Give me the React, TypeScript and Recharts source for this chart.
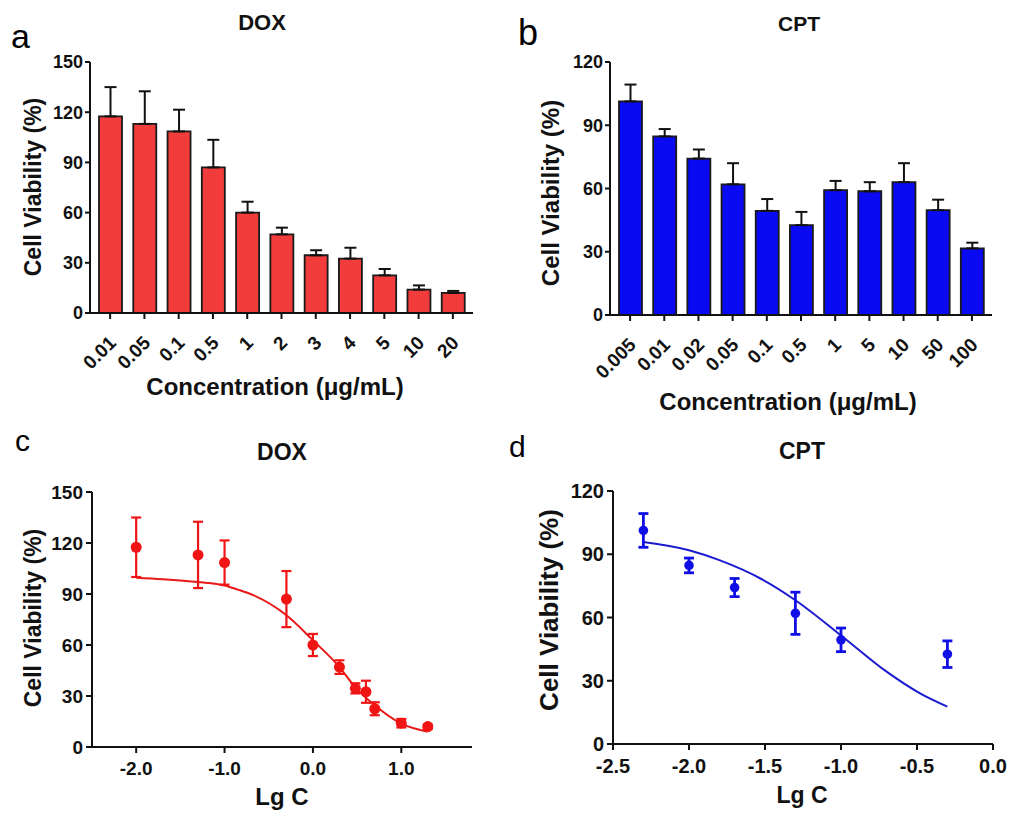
import React from "react";
import {
  Bar,
  ComposedChart,
  ErrorBar,
  Line,
  Scatter,
  XAxis,
  YAxis,
} from "recharts";

// panel a / c : DOX
const doxConc = ["0.01", "0.05", "0.1", "0.5", "1", "2", "3", "4", "5", "10", "20"];
const doxLgC = [-2, -1.3, -1, -0.3, 0, 0.3, 0.48, 0.6, 0.7, 1, 1.3];
const doxMean = [117.5, 113, 108.5, 87, 60, 47, 34.5, 32.5, 22.5, 14, 12];
const doxErr = [17.5, 19.5, 13, 16.5, 6.5, 4, 3, 6.5, 3.8, 2.5, 1.2];
const doxFitX = [-2, -1.7, -1.3, -1, -0.85, -0.67, -0.3, 0, 0.3, 0.46, 0.7, 1, 1.3];
const doxFitY = [99.6, 98.7, 97, 95, 92.6, 89.2, 77.5, 62.8, 47, 36.3, 24.5, 13.7, 9];

// panel b / d : CPT
const cptConc = ["0.005", "0.01", "0.02", "0.05", "0.1", "0.5", "1", "5", "10", "50", "100"];
const cptMean = [101.3, 84.7, 74.2, 62, 49.4, 42.6, 59.2, 58.7, 63, 49.7, 31.6];
const cptErr = [8, 3.5, 4.3, 10, 5.6, 6.3, 4.4, 4.3, 9, 5, 2.7];
const cptLgC = [-2.3, -2, -1.7, -1.3, -1, -0.3];
const cptFitX = [-2.3, -2, -1.8, -1.53, -1.3, -1, -0.7, -0.48, -0.3];
const cptFitY = [95.8, 91.9, 87.2, 78.5, 68.2, 51.5, 34.3, 24, 17.7];

const doxTicksY = [0, 30, 60, 90, 120, 150];
const cptTicksY = [0, 30, 60, 90, 120];
const doxTicksX = [-2, -1, 0, 1];
const cptTicksX = [-2.5, -2, -1.5, -1, -0.5, 0];

const FONT = "'Liberation Sans', Arial, sans-serif";
const INK = "#111";

const barRows = (conc: string[], mean: number[], err: number[]) =>
  conc.map((c, i) => ({ conc: c, mean: mean[i], err: [0, err[i]] }));
const ptRows = (xs: number[], mean: number[], err: number[]) =>
  xs.map((x, i) => ({ x, y: mean[i], err: err[i] }));
const fitRows = (xs: number[], ys: number[]) => xs.map((x, i) => ({ x, y: ys[i] }));

function RotTick(props: any) {
  const { x, y, payload, fontSize } = props;
  const ax = x + 7;
  const ay = y + 23;
  return (
    <text
      x={ax}
      y={ay}
      transform={`rotate(-45, ${ax}, ${ay})`}
      textAnchor="end"
      fontSize={fontSize}
      fontWeight="bold"
      fontFamily={FONT}
      fill={INK}
    >
      {payload.value}
    </text>
  );
}

function Label(p: {
  x: number;
  y: number;
  size: number;
  text: string;
  rotate?: boolean;
}) {
  return (
    <div
      style={{
        position: "absolute",
        left: p.x,
        top: p.y,
        transform: `translate(-50%, -50%)${p.rotate ? " rotate(-90deg)" : ""}`,
        fontSize: p.size,
        fontWeight: "bold",
        lineHeight: 1,
        whiteSpace: "nowrap",
        color: INK,
      }}
    >
      {p.text}
    </div>
  );
}

function Letter(p: { x: number; y: number; size: number; text: string }) {
  return (
    <div
      style={{
        position: "absolute",
        left: p.x,
        top: p.y,
        fontSize: p.size,
        lineHeight: 1,
        color: "#000",
      }}
    >
      {p.text}
    </div>
  );
}

interface BarProps {
  left: number;
  top: number;
  width: number;
  height: number;
  yWidth: number;
  xHeight: number;
  marginTop: number;
  marginRight: number;
  rows: any[];
  yMax: number;
  yTicks: number[];
  fill: string;
  tickFont: number;
  catFont: number;
}

function BarPanel(p: BarProps) {
  const axis = { stroke: INK, strokeWidth: 2 };
  const frame = { stroke: INK, strokeWidth: 1.4 };
  return (
    <div style={{ position: "absolute", left: p.left, top: p.top }}>
      <ComposedChart
        width={p.width}
        height={p.height}
        data={p.rows}
        margin={{ top: p.marginTop, right: p.marginRight, bottom: 0, left: 0 }}
      >
        <XAxis
          dataKey="conc"
          type="category"
          height={p.xHeight}
          interval={0}
          padding={{ left: 3, right: 3 }}
          axisLine={axis}
          tickLine={axis}
          tickSize={6}
          tickMargin={2}
          tick={<RotTick fontSize={p.catFont} />}
        />
        <XAxis
          xAxisId="top"
          dataKey="conc"
          orientation="top"
          height={0}
          tick={false}
          tickLine={false}
          axisLine={frame}
        />
        <YAxis
          domain={[0, p.yMax]}
          ticks={p.yTicks}
          width={p.yWidth}
          axisLine={axis}
          tickLine={axis}
          tickSize={5}
          tickMargin={2}
          tick={{ fontSize: p.tickFont, fontWeight: "bold", fill: INK, fontFamily: FONT }}
        />
        <YAxis
          yAxisId="right"
          orientation="right"
          domain={[0, p.yMax]}
          width={0}
          tick={false}
          tickLine={false}
          axisLine={frame}
        />
        <Bar
          dataKey="mean"
          fill={p.fill}
          stroke="#1a1a1a"
          strokeWidth={1.8}
          barSize={23}
          isAnimationActive={false}
        >
          <ErrorBar dataKey="err" direction="y" width={6} stroke={INK} strokeWidth={2} />
        </Bar>
      </ComposedChart>
    </div>
  );
}

interface FitProps {
  left: number;
  top: number;
  width: number;
  height: number;
  yWidth: number;
  xHeight: number;
  marginTop: number;
  marginRight: number;
  pts: any[];
  fit: any[];
  xDomain: [number, number];
  xTicks: number[];
  yMax: number;
  yTicks: number[];
  color: string;
  lineColor: string;
  r: number;
  tickFont: number;
  errWidth: number;
}

function FitPanel(p: FitProps) {
  const axis = { stroke: INK, strokeWidth: 2 };
  const frame = { stroke: INK, strokeWidth: 1.4 };
  const tick = { fontSize: p.tickFont, fontWeight: "bold", fill: INK, fontFamily: FONT };
  return (
    <div style={{ position: "absolute", left: p.left, top: p.top }}>
      <ComposedChart
        width={p.width}
        height={p.height}
        margin={{ top: p.marginTop, right: p.marginRight, bottom: 0, left: 0 }}
      >
        <XAxis
          dataKey="x"
          type="number"
          domain={p.xDomain}
          ticks={p.xTicks}
          allowDataOverflow
          height={p.xHeight}
          axisLine={axis}
          tickLine={axis}
          tickSize={6}
          tickMargin={9}
          tickFormatter={(v: number) => v.toFixed(1)}
          tick={tick}
        />
        <XAxis
          xAxisId="top"
          dataKey="x"
          type="number"
          domain={p.xDomain}
          orientation="top"
          height={0}
          tick={false}
          tickLine={false}
          axisLine={frame}
        />
        <YAxis
          domain={[0, p.yMax]}
          ticks={p.yTicks}
          width={p.yWidth}
          axisLine={axis}
          tickLine={axis}
          tickSize={6}
          tickMargin={3}
          tick={tick}
        />
        <YAxis
          yAxisId="right"
          orientation="right"
          domain={[0, p.yMax]}
          width={0}
          tick={false}
          tickLine={false}
          axisLine={frame}
        />
        <Line
          data={p.fit}
          dataKey="y"
          type="monotone"
          stroke={p.lineColor}
          strokeWidth={2}
          dot={false}
          isAnimationActive={false}
        />
        <Scatter
          data={p.pts}
          dataKey="y"
          fill={p.color}
          isAnimationActive={false}
          shape={(s: any) => <circle cx={s.cx} cy={s.cy} r={p.r} fill={p.color} />}
        >
          <ErrorBar
            dataKey="err"
            direction="y"
            width={5}
            stroke={p.color}
            strokeWidth={p.errWidth}
          />
        </Scatter>
      </ComposedChart>
    </div>
  );
}

export default function App() {
  return (
    <div
      style={{
        position: "absolute",
        left: 0,
        top: 0,
        width: 1009,
        height: 814,
        background: "#fff",
        fontFamily: FONT,
        overflow: "hidden",
      }}
    >
      <BarPanel
        left={0}
        top={0}
        width={490}
        height={420}
        yWidth={90}
        xHeight={107}
        marginTop={62}
        marginRight={17}
        rows={barRows(doxConc, doxMean, doxErr)}
        yMax={150}
        yTicks={doxTicksY}
        fill="#F23C3C"
        tickFont={18}
        catFont={19}
      />
      <BarPanel
        left={500}
        top={0}
        width={509}
        height={420}
        yWidth={110}
        xHeight={105}
        marginTop={62}
        marginRight={17}
        rows={barRows(cptConc, cptMean, cptErr)}
        yMax={120}
        yTicks={cptTicksY}
        fill="#0A0AF2"
        tickFont={18}
        catFont={19}
      />
      <FitPanel
        left={0}
        top={430}
        width={490}
        height={384}
        yWidth={92}
        xHeight={67}
        marginTop={62}
        marginRight={18}
        pts={ptRows(doxLgC, doxMean, doxErr)}
        fit={fitRows(doxFitX, doxFitY)}
        xDomain={[-2.5, 1.8]}
        xTicks={doxTicksX}
        yMax={150}
        yTicks={doxTicksY}
        color="#F01414"
        lineColor="#E81818"
        r={5.5}
        tickFont={19}
        errWidth={2.2}
      />
      <FitPanel
        left={500}
        top={430}
        width={509}
        height={384}
        yWidth={113}
        xHeight={70}
        marginTop={61}
        marginRight={16}
        pts={ptRows(cptLgC, cptMean.slice(0, 6), cptErr.slice(0, 6))}
        fit={fitRows(cptFitX, cptFitY)}
        xDomain={[-2.5, 0]}
        xTicks={cptTicksX}
        yMax={120}
        yTicks={cptTicksY}
        color="#1010E6"
        lineColor="#1A1AD0"
        r={4.8}
        tickFont={20}
        errWidth={2.8}
      />

      <Letter x={11} y={19} size={34} text="a" />
      <Letter x={518} y={15} size={36} text="b" />
      <Letter x={15} y={426} size={30} text="c" />
      <Letter x={509} y={432} size={30} text="d" />

      <Label x={262} y={23} size={22} text="DOX" />
      <Label x={799} y={23} size={21} text="CPT" />
      <Label x={282} y={452} size={23} text="DOX" />
      <Label x={802} y={451} size={23} text="CPT" />

      <Label x={33} y={187} size={23} text="Cell Viability (%)" rotate />
      <Label x={551} y={193} size={24} text="Cell Viability (%)" rotate />
      <Label x={33} y={618} size={23} text="Cell Viability (%)" rotate />
      <Label x={549} y={610} size={26} text="Cell Viability (%)" rotate />

      <Label x={275} y={387} size={24} text="Concentration (μg/mL)" />
      <Label x={788} y={402} size={24} text="Concentration (μg/mL)" />
      <Label x={282} y={797} size={24} text="Lg C" />
      <Label x={802} y={795} size={23} text="Lg C" />
    </div>
  );
}
